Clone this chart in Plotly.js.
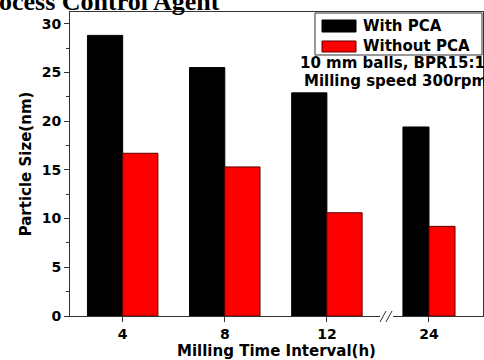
<!DOCTYPE html>
<html>
<head>
<meta charset="utf-8">
<script src="https://cdn.plot.ly/plotly-3.0.1.min.js"></script>
<style>html,body{margin:0;padding:0;background:#fff;overflow:hidden}#chart{width:484px;height:360px}</style>
</head>
<body>
<div id="chart"></div>
<script>
// ---- data ----
const categories = ["4", "8", "12", "24"];
const withPCA = [28.8, 25.5, 22.9, 19.4];
const withoutPCA = [16.7, 15.3, 10.6, 9.2];
const seriesNames = ["With PCA", "Without PCA"];
const notes = ["10 mm balls, BPR15:1", "Milling speed 300rpm"];
const chartTitle = "Process Control Agent";
const xTitle = "Milling Time Interval(h)";
const yTitle = "Particle Size(nm)";

// ---- styles ----
const barWidth = [0.345, 0.345, 0.345, 0.255];
const colors = ["#000000", "#ff0000"];
const lineColors = ["#000000", "#5a0000"];
const axisColor = "#333";
const FAM = "DejaVu Sans, Arial, sans-serif";
const tickFont = {family: FAM, size: 14, color: "#000", weight: "bold"};
const titleFont = {family: FAM, size: 15, color: "#000", weight: "bold"};

// plot area geometry (px) for decorations
const L = 70, R = 483, T = 12, B = 316;
const W = R - L, H = B - T;
const px = x => (x - L) / W;
const py = y => (B - y) / H;

const traces = [
  {type: "bar", x: categories, y: withPCA, name: seriesNames[0],
   width: barWidth, offset: barWidth.map(w => -w),
   marker: {color: colors[0], line: {color: lineColors[0], width: 1}}},
  {type: "bar", x: categories, y: withoutPCA, name: seriesNames[1],
   width: barWidth, offset: barWidth.map(() => 0),
   marker: {color: colors[1], line: {color: lineColors[1], width: 1}}}
];

const shapes = [
  // axis break
  {type: "rect", xref: "paper", yref: "paper", x0: px(380), x1: px(393), y0: py(313), y1: py(319),
   fillcolor: "#fff", line: {width: 0}, layer: "above"},
  {type: "line", xref: "paper", yref: "paper", x0: px(380), y0: py(322), x1: px(386), y1: py(311),
   line: {color: axisColor, width: 1}},
  {type: "line", xref: "paper", yref: "paper", x0: px(386), y0: py(322), x1: px(392), y1: py(311),
   line: {color: axisColor, width: 1}},
  // legend box
  {type: "rect", xref: "paper", yref: "paper", x0: px(315), x1: px(482), y0: py(55), y1: py(13),
   fillcolor: "#fff", line: {color: axisColor, width: 1}},
  {type: "rect", xref: "paper", yref: "paper", x0: px(322), x1: px(356), y0: py(32), y1: py(20),
   fillcolor: colors[0], line: {color: lineColors[0], width: 1}},
  {type: "rect", xref: "paper", yref: "paper", x0: px(322), x1: px(356), y0: py(52), y1: py(41),
   fillcolor: colors[1], line: {color: lineColors[1], width: 1}}
];

const annotations = [
  {xref: "paper", yref: "paper", x: px(361), y: py(26), xanchor: "left", yanchor: "middle",
   text: seriesNames[0], showarrow: false, font: titleFont},
  {xref: "paper", yref: "paper", x: px(361), y: py(46), xanchor: "left", yanchor: "middle",
   text: seriesNames[1], showarrow: false, font: titleFont},
  {xref: "paper", yref: "paper", x: px(298), y: py(63), xanchor: "left", yanchor: "middle",
   text: notes[0], showarrow: false, font: titleFont},
  {xref: "paper", yref: "paper", x: px(302), y: py(81), xanchor: "left", yanchor: "middle",
   text: notes[1], showarrow: false, font: titleFont},
  {xref: "paper", yref: "paper", x: px(-30), y: py(18), xanchor: "left", yanchor: "bottom",
   text: "<b>" + chartTitle + "</b>", showarrow: false,
   font: {family: "Liberation Serif, Times New Roman, serif", size: 26, color: "#000"}}
];

const xRange = [-0.516, 3.529];

const layout = {
  width: 484, height: 360,
  margin: {l: L, r: 484 - R, t: T, b: 360 - B, pad: 0},
  paper_bgcolor: "#fff", plot_bgcolor: "#fff",
  showlegend: false,
  barmode: "overlay",
  xaxis: {
    type: "category", range: xRange, showgrid: false, zeroline: false,
    showline: true, linecolor: axisColor, linewidth: 1, mirror: true,
    ticks: "outside", ticklen: 5, tickcolor: axisColor, tickwidth: 1,
    tickfont: tickFont,
    title: {text: xTitle, font: titleFont, standoff: 2}
  },
  xaxis2: {
    overlaying: "x", anchor: "y", side: "bottom", type: "linear", range: xRange,
    tickmode: "array", tickvals: [-0.5, 0.512, 1.52, 3.37], ticktext: ["", "", "", ""],
    ticks: "outside", ticklen: 4, tickcolor: axisColor, tickwidth: 1,
    showgrid: false, zeroline: false, showline: false, showticklabels: false
  },
  yaxis: {
    range: [0, 31.2], dtick: 5, showgrid: false, zeroline: false,
    showline: true, linecolor: axisColor, linewidth: 1, mirror: true,
    ticks: "outside", ticklen: 5, tickcolor: axisColor, tickwidth: 1,
    minor: {dtick: 2.5, ticks: "outside", ticklen: 3, tickcolor: axisColor, showgrid: false},
    tickfont: tickFont,
    title: {text: yTitle, font: titleFont, standoff: 6}
  },
  shapes: shapes,
  annotations: annotations
};

Plotly.newPlot("chart", traces, layout, {displayModeBar: false, staticPlot: true});
</script>
</body>
</html>
